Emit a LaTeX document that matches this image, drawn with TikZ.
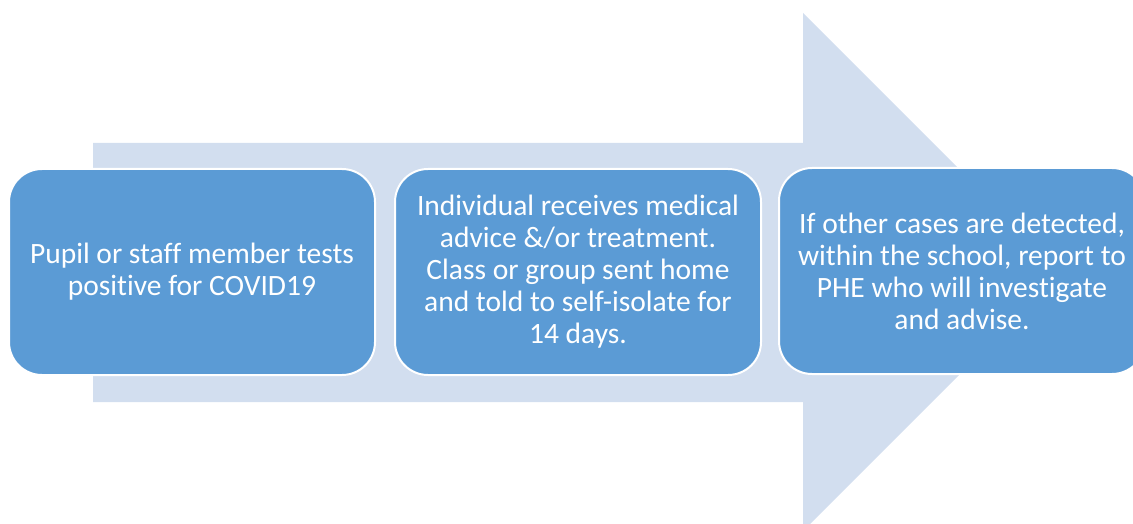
\documentclass[tikz,border=0pt]{standalone}
\usepackage{fontspec}
\setmainfont[Ligatures=NoCommon]{Carlito}
\definecolor{shaftblue}{HTML}{D2DEEF}
\definecolor{stepblue}{HTML}{5B9BD5}
\begin{document}
\begin{tikzpicture}[x=1pt,y=-1pt,
  stepbox/.style={draw=white,line width=2pt,fill=stepblue,rounded corners=33pt,
    minimum width=366pt,minimum height=206pt,align=center,text=white,
    font=\fontsize{29.5}{32}\selectfont}]
\useasboundingbox (0,0) rectangle (1133,524);
\fill[shaftblue] (93,143) -- (803,143) -- (803,13) -- (1062,272) -- (803,531) -- (803,402) -- (93,402) -- cycle;
\node[stepbox] (pupil) at (192,272) {Pupil or staff member tests\\positive for COVID19};
\node[stepbox] (advice) at (578,272) {Individual receives medical\\advice \&/or treatment.\\Class or group sent home\\and told to self-isolate for\\14 days.};
\node[stepbox] (report) at (962,271) {If other cases are detected,\\within the school, report to\\PHE who will investigate\\and advise.};
\end{tikzpicture}
\end{document}
